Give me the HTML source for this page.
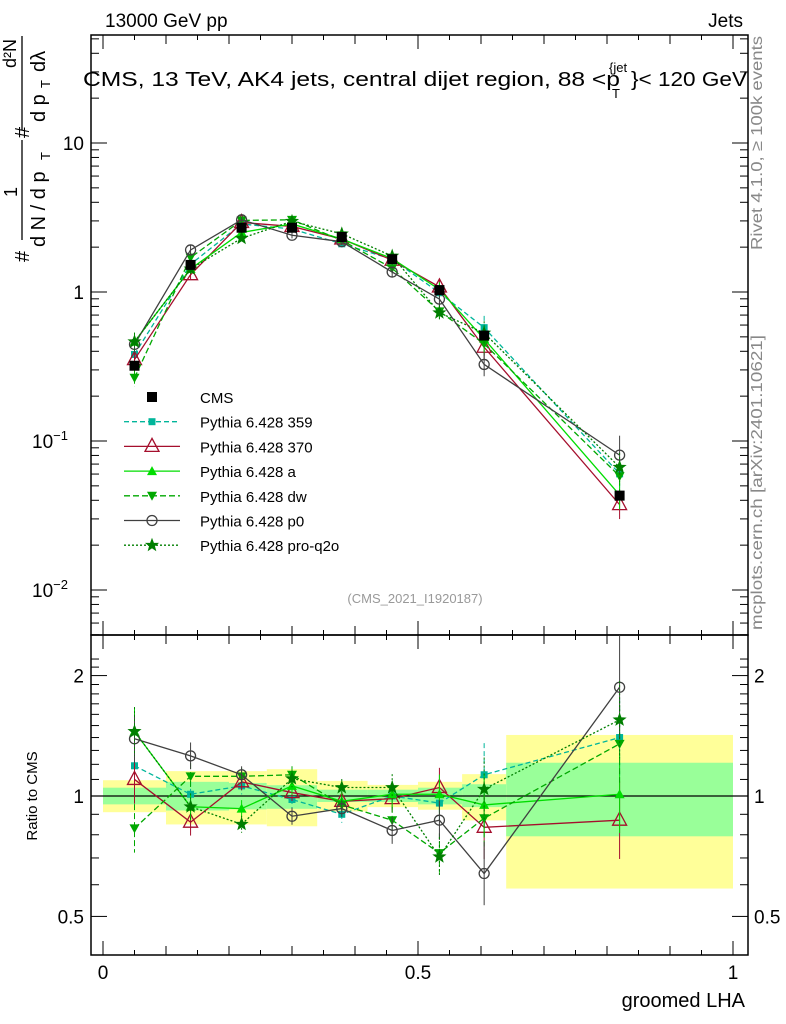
<!DOCTYPE html>
<html><head><meta charset="utf-8"><style>
body{margin:0;background:#fff}
svg{display:block;font-family:"Liberation Sans",sans-serif}
</style></head><body>
<svg id="c" width="786" height="1024" viewBox="0 0 786 1024">
<g id="bands"></g><g id="axes"></g><g id="marks"></g>
<text x="105" y="27" font-size="19">13000 GeV pp</text>
<text x="743" y="27" font-size="19" text-anchor="end">Jets</text>
<g>
<text x="83" y="86" font-size="20" textLength="537" lengthAdjust="spacingAndGlyphs">CMS, 13 TeV, AK4 jets, central dijet region, 88 &lt;p</text>
<text x="609" y="72" font-size="13">{jet</text>
<text x="612" y="98" font-size="13">T</text>
<text x="631" y="86" font-size="20" textLength="116" lengthAdjust="spacingAndGlyphs">}&lt; 120 GeV</text>
</g>
<text x="415" y="603" font-size="13" fill="#999" text-anchor="middle">(CMS_2021_I1920187)</text>
<g transform="rotate(-90)">
<text x="-262" y="29" font-size="20">#</text>
<line x1="-240" x2="-140" y1="22" y2="22" stroke="#000" stroke-width="1.3"/>
<text x="-197" y="17" font-size="18">1</text>
<text x="-247" y="45" font-size="20">d N / d p</text><text x="-160" y="50" font-size="13">T</text>
<text x="-138" y="29" font-size="20">#</text>
<line x1="-130" x2="-36" y1="22" y2="22" stroke="#000" stroke-width="1.3"/>
<text x="-68" y="16" font-size="18">d²N</text>
<text x="-122" y="45" font-size="20">d p</text><text x="-88" y="50" font-size="13">T</text><text x="-72" y="45" font-size="20">dλ</text>
</g>
<text transform="translate(762,250) rotate(-90)" font-size="16" fill="#888" textLength="214" lengthAdjust="spacingAndGlyphs">Rivet 4.1.0, ≥ 100k events</text>
<text transform="translate(762,630) rotate(-90)" font-size="16" fill="#888" textLength="295" lengthAdjust="spacingAndGlyphs">mcplots.cern.ch [arXiv:2401.10621]</text>
<text transform="translate(37,796) rotate(-90)" font-size="15" text-anchor="middle">Ratio to CMS</text>
<text x="745" y="1007" font-size="20" text-anchor="end">groomed LHA</text>
<g id="legend"></g>
</svg>
<script>
const binEdges=[0,0.1,0.2,0.26,0.34,0.42,0.5,0.57,0.64,1.0];
const xPts=[0.05,0.139,0.22,0.30,0.379,0.459,0.534,0.605,0.82];
const cmsVals=[0.32,1.52,2.7,2.7,2.34,1.66,1.03,0.51,0.043];
const totHi=[1.095,1.154,1.154,1.167,1.091,1.066,1.085,1.134,1.421];
const totLo=[0.911,0.849,0.849,0.840,0.915,0.938,0.924,0.869,0.587];
const statHi=[1.049,1.085,1.078,1.064,1.037,1.037,1.049,1.07,1.211];
const statLo=[0.953,0.92,0.926,0.929,0.966,0.966,0.953,0.938,0.793];
const r359=[1.19,1.01,1.06,0.98,0.90,1.0,0.96,1.13,1.40];
const r370=[1.10,0.86,1.085,1.02,0.97,0.985,1.05,0.835,0.87];
const rA=[1.45,0.94,0.93,1.06,0.97,1.01,1.01,0.95,1.01];
const rDW=[0.83,1.12,1.12,1.13,0.95,0.87,0.72,0.88,1.35];
const rP0=[1.39,1.26,1.13,0.89,0.93,0.82,0.87,0.64,1.87];
const rPQ=[1.45,0.94,0.85,1.105,1.05,1.05,0.705,1.04,1.55];
const modelErr=[0.15,0.08,0.05,0.05,0.05,0.08,0.12,0.2,0.25];
const legendLabels=["CMS","Pythia 6.428 359","Pythia 6.428 370","Pythia 6.428 a","Pythia 6.428 dw","Pythia 6.428 p0","Pythia 6.428 pro-q2o"];

const NS="http://www.w3.org/2000/svg";
const X0=91,X1=748,T0=35,T1=635,R1=955;
const xs=v=>103+630*v;
const ym=v=>292-149*Math.log10(v);
const yr=v=>796-400*Math.log10(v);
function mk(tag,at,parent,name,txt){const e=document.createElementNS(NS,tag);for(const k in at)e.setAttribute(k,at[k]);


if(txt!==undefined)e.textContent=txt;document.getElementById(parent).appendChild(e);return e;}

for(let i=0;i<9;i++){
 const xa=xs(binEdges[i]),xb=xs(binEdges[i+1]);
 mk('rect',{x:xa,y:yr(totHi[i]),width:xb-xa,height:yr(totLo[i])-yr(totHi[i]),fill:'#ffff99'},'bands','total-uncertainty-band');
 mk('rect',{x:xa,y:yr(statHi[i]),width:xb-xa,height:yr(statLo[i])-yr(statHi[i]),fill:'#99ff99'},'bands','stat-uncertainty-band');
}
mk('line',{x1:X0,x2:X1,y1:yr(1),y2:yr(1),stroke:'#000','stroke-width':1.2},'bands','ratio-unity-line');
mk('rect',{x:X0,y:T0,width:X1-X0,height:T1-T0,fill:'none',stroke:'#000','stroke-width':1.5},'axes','main-frame');
mk('rect',{x:X0,y:T1,width:X1-X0,height:R1-T1,fill:'none',stroke:'#000','stroke-width':1.5},'axes','ratio-frame');
for(let k=0;k<=20;k++){const v=k*0.05,x=xs(v);const L=k%10==0?14:(k%2==0?9:5);
 for(const [y,d] of [[T0,1],[T1,-1],[T1,1],[R1,-1]]) mk('line',{x1:x,x2:x,y1:y,y2:y+d*L,stroke:'#000'},'axes','x-tick');}
[[0,'0'],[0.5,'0.5'],[1,'1']].forEach(([v,t])=>mk('text',{x:xs(v),y:979,'font-size':19,'text-anchor':'middle'},'axes','x-tick-label',t));
for(let e=-3;e<=1;e++)for(let m=1;m<=9;m++){const v=m*Math.pow(10,e),y=ym(v);if(y<T0||y>T1)continue;const L=m==1?16:8;
 mk('line',{x1:X0,x2:X0+L,y1:y,y2:y,stroke:'#000'},'axes','y-tick');mk('line',{x1:X1,x2:X1-L,y1:y,y2:y,stroke:'#000'},'axes','y-tick');}
mk('text',{x:84,y:150,'font-size':19,'text-anchor':'end'},'axes','y-tick-label','10');
mk('text',{x:84,y:299,'font-size':19,'text-anchor':'end'},'axes','y-tick-label','1');
[[-1,441],[-2,590]].forEach(([e,y])=>{const t=mk('text',{x:68,y:y+7,'font-size':19,'text-anchor':'end'},'axes','y-tick-label','10');
 const s=document.createElementNS(NS,'tspan');s.setAttribute('font-size','13');s.setAttribute('dy','-8');s.textContent='−'+(-e);t.appendChild(s);});
for(let m=4;m<=22;m++){const v=m/10,y=yr(v);if(y<T1||y>R1)continue;const L=(m==5||m==10||m==20)?16:8;
 mk('line',{x1:X0,x2:X0+L,y1:y,y2:y,stroke:'#000'},'axes','ratio-tick');mk('line',{x1:X1,x2:X1-L,y1:y,y2:y,stroke:'#000'},'axes','ratio-tick');}
[[2,'2'],[1,'1'],[0.5,'0.5']].forEach(([v,t])=>{mk('text',{x:84,y:yr(v)+7,'font-size':19,'text-anchor':'end'},'axes','ratio-tick-label',t);
 mk('text',{x:754,y:yr(v)+7,'font-size':19},'axes','ratio-tick-label',t);});

function marker(type,x,y,col,name){
 if(type=='sq')return mk('rect',{x:x-3.5,y:y-3.5,width:7,height:7,fill:col},'marks',name);
 if(type=='bsq')return mk('rect',{x:x-5,y:y-5,width:10,height:10,fill:col},'marks',name);
 if(type=='tri')return mk('polygon',{points:`${x},${y-8} ${x-7},${y+5} ${x+7},${y+5}`,fill:'#fff','fill-opacity':0,stroke:col,'stroke-width':1.3},'marks',name);
 if(type=='ftri')return mk('polygon',{points:`${x},${y-5} ${x-5},${y+4} ${x+5},${y+4}`,fill:col},'marks',name);
 if(type=='dtri')return mk('polygon',{points:`${x},${y+5} ${x-5},${y-4} ${x+5},${y-4}`,fill:col},'marks',name);
 if(type=='circ')return mk('circle',{cx:x,cy:y,r:5,fill:'none',stroke:col,'stroke-width':1.3},'marks',name);
 if(type=='star'){let p=[];for(let k=0;k<10;k++){const r=k%2?2.5:6,a=-Math.PI/2+k*Math.PI/5;p.push((x+r*Math.cos(a)).toFixed(1)+','+(y+r*Math.sin(a)).toFixed(1));}
  return mk('polygon',{points:p.join(' '),fill:col,stroke:col},'marks',name);}
}
const models=[
 {r:r359,col:'#00b59a',dash:'5,3',m:'sq',name:'pythia-359'},
 {r:r370,col:'#a50f2d',dash:'',m:'tri',name:'pythia-370'},
 {r:rA,col:'#00dd00',dash:'',m:'ftri',name:'pythia-a'},
 {r:rDW,col:'#00a800',dash:'6,3',m:'dtri',name:'pythia-dw'},
 {r:rP0,col:'#404040',dash:'',m:'circ',name:'pythia-p0'},
 {r:rPQ,col:'#007f00',dash:'2,2',m:'star',name:'pythia-pro-q2o'}];
models.forEach(md=>{
 const main=md.r.map((r,i)=>r*cmsVals[i]);
 const pm=main.map((v,i)=>xs(xPts[i])+','+ym(v)).join(' ');
 const pr=md.r.map((v,i)=>xs(xPts[i])+','+yr(v)).join(' ');
 mk('polyline',{points:pm,fill:'none',stroke:md.col,'stroke-width':1.3,'stroke-dasharray':md.dash},'marks',md.name+'-line');
 mk('polyline',{points:pr,fill:'none',stroke:md.col,'stroke-width':1.3,'stroke-dasharray':md.dash},'marks',md.name+'-ratio-line');
 md.r.forEach((r,i)=>{const x=xs(xPts[i]),e=modelErr[i]*(md.name=='pythia-p0'&&i==8?1.4:1);
  mk('line',{x1:x,x2:x,y1:ym(main[i]*(1+e)),y2:ym(main[i]/(1+e)),stroke:md.col,'stroke-dasharray':md.dash},'marks',md.name+'-error');
  mk('line',{x1:x,x2:x,y1:yr(r*(1+e)),y2:yr(r/(1+e)),stroke:md.col,'stroke-dasharray':md.dash},'marks',md.name+'-ratio-error');
  marker(md.m,x,ym(main[i]),md.col,md.name+'-point');
  marker(md.m,x,yr(r),md.col,md.name+'-ratio-point');});
});
cmsVals.forEach((v,i)=>marker('bsq',xs(xPts[i]),ym(v),'#000','cms-point'));
const lt=['bsq','sq','tri','ftri','dtri','circ','star'],lc=['#000','#00b59a','#a50f2d','#00dd00','#00a800','#404040','#007f00'],ld=['','5,3','','','6,3','','2,2'];
legendLabels.forEach((t,k)=>{const y=397+k*24.7;
 if(k>0)mk('line',{x1:124,x2:180,y1:y,y2:y,stroke:lc[k],'stroke-width':1.3,'stroke-dasharray':ld[k]},'legend','legend-line');
 marker(lt[k],152,y,lc[k],'legend-marker');
 mk('text',{x:200,y:y+6,'font-size':15},'legend','legend-entry',t);});
</script>
</body></html>
